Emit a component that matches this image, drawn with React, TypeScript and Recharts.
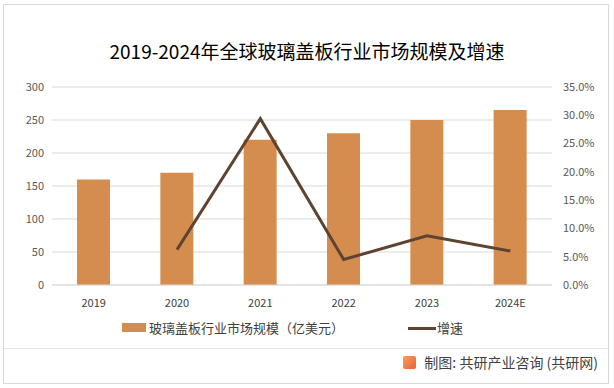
import React from "react";
import { ComposedChart, Bar, Line, XAxis, YAxis, CartesianGrid } from "recharts";

// values
const years = ["2019", "2020", "2021", "2022", "2023", "2024E"];
const marketSize = [160, 170, 220, 230, 250, 265]; // 亿美元
const growthRate = [null, 6.25, 29.4, 4.5, 8.7, 6.0]; // %
const leftTicks = [0, 50, 100, 150, 200, 250, 300];
const rightTicks = [0, 5, 10, 15, 20, 25, 30, 35];

const data = years.map((year, i) => ({
  year,
  size: marketSize[i],
  rate: growthRate[i],
}));

const barColor = "#d58d4f";
const lineColor = "#5e4330";
const font = "'Noto Sans CJK SC', 'Microsoft YaHei', sans-serif";

export default function App() {
  return (
    <div
      style={{
        position: "absolute",
        left: 0,
        top: 0,
        width: 614,
        height: 388,
        background: "#fff",
        fontFamily: font,
        overflow: "hidden",
      }}
    >
      {/* frame */}
      <div
        style={{
          position: "absolute",
          left: 3,
          top: 4,
          width: 604,
          height: 378,
          border: "1px solid #d9d9d9",
        }}
      />
      <div
        style={{
          position: "absolute",
          left: 4,
          top: 348,
          width: 604,
          height: 1,
          background: "#e3e3e3",
        }}
      />

      <div
        style={{
          position: "absolute",
          left: 0,
          top: 38,
          width: 614,
          textAlign: "center",
          fontSize: 19,
          color: "#000",
          lineHeight: "26px",
        }}
      >
        2019-2024年全球玻璃盖板行业市场规模及增速
      </div>

      <div style={{ position: "absolute", left: 0, top: 0 }}>
        <ComposedChart
          width={614}
          height={388}
          data={data}
          margin={{ top: 87, right: 0, left: 0, bottom: 73 }}
        >
          <CartesianGrid yAxisId="left" vertical={false} stroke="#d9d9d9" />
          <XAxis
            dataKey="year"
            height={30}
            tickLine={false}
            axisLine={{ stroke: "#d9d9d9" }}
            tickMargin={8}
            tick={{ fontSize: 11, fill: "#404040", fontFamily: font }}
          />
          <YAxis
            yAxisId="left"
            width={52}
            domain={[0, 300]}
            ticks={leftTicks}
            tickLine={false}
            axisLine={false}
            tick={{ fontSize: 11, fill: "#595959", fontFamily: font }}
          />
          <YAxis
            yAxisId="right"
            orientation="right"
            width={62}
            domain={[0, 35]}
            ticks={rightTicks}
            tickLine={false}
            axisLine={false}
            tickMargin={5}
            tickFormatter={(v: number) => `${v.toFixed(1)}%`}
            tick={{ fontSize: 11, fill: "#595959", fontFamily: font, textAnchor: "start" }}
          />
          <Bar
            yAxisId="left"
            dataKey="size"
            fill={barColor}
            barSize={33}
            isAnimationActive={false}
          />
          <Line
            yAxisId="right"
            dataKey="rate"
            stroke={lineColor}
            strokeWidth={3}
            dot={false}
            activeDot={false}
            connectNulls={false}
            isAnimationActive={false}
          />
        </ComposedChart>
      </div>

      {/* legend */}
      <div style={{ position: "absolute", left: 122, top: 323, width: 24, height: 9, background: barColor }} />
      <div style={{ position: "absolute", left: 149, top: 318, fontSize: 13, color: "#404040", lineHeight: "20px" }}>
        玻璃盖板行业市场规模（亿美元）
      </div>
      <div style={{ position: "absolute", left: 408, top: 327, width: 28, height: 3, background: lineColor }} />
      <div style={{ position: "absolute", left: 437, top: 318, fontSize: 13, color: "#404040", lineHeight: "20px" }}>
        增速
      </div>

      {/* source */}
      <div
        style={{
          position: "absolute",
          right: 16,
          top: 352,
          display: "flex",
          alignItems: "center",
          gap: 8,
          fontSize: 14,
          color: "#404040",
          lineHeight: "20px",
          whiteSpace: "nowrap",
        }}
      >
        <div
          style={{
            width: 13,
            height: 13,
            background: "linear-gradient(135deg, #f5a15a, #e8603a)",
            borderRadius: 2,
          }}
        />
        <span>制图: 共研产业咨询 (共研网)</span>
      </div>
    </div>
  );
}
